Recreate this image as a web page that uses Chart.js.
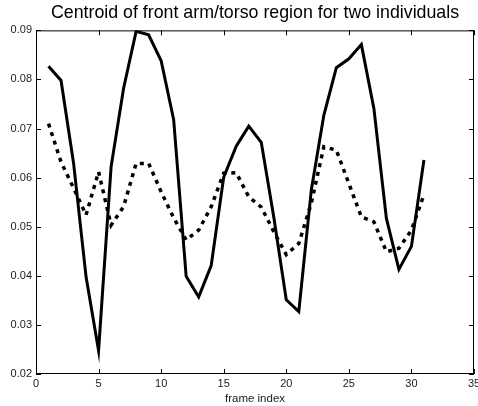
<!DOCTYPE html>
<html>
<head>
<meta charset="utf-8">
<script src="https://cdn.jsdelivr.net/npm/chart.js@4/dist/chart.umd.min.js"></script>
<style>
  html, body { margin: 0; padding: 0; background: #fff; }
  #wrap { width: 478px; height: 406px; }
</style>
</head>
<body>
<div id="wrap"><canvas id="chart" width="478" height="406"></canvas></div>
<script>
// frame index 1..31
const frames = [1,2,3,4,5,6,7,8,9,10,11,12,13,14,15,16,17,18,19,20,21,22,23,24,25,26,27,28,29,30,31];

// first individual (solid)
const personA = [0.0827,0.0798,0.0630,0.0398,0.0248,0.0622,0.0782,0.0898,0.0891,0.0838,
  0.0718,0.0399,0.0357,0.0421,0.0601,0.0664,0.0705,0.0672,0.0520,0.0351,
  0.0327,0.0575,0.0727,0.0824,0.0842,0.0871,0.0741,0.0517,0.0413,0.0460,0.0636];

// second individual (dotted)
const personB = [0.0710,0.0632,0.0579,0.0524,0.0612,0.0503,0.0541,0.0629,0.0629,0.0571,
  0.0518,0.0473,0.0493,0.0541,0.0609,0.0610,0.0561,0.0540,0.0490,0.0443,
  0.0466,0.0548,0.0663,0.0656,0.0588,0.0520,0.0510,0.0449,0.0456,0.0493,0.0565];

const xTicks = [0,5,10,15,20,25,30,35];
const yTicks = [0.02,0.03,0.04,0.05,0.06,0.07,0.08,0.09];

const toPoints = arr => arr.map((v, i) => ({ x: frames[i], y: v }));

// matlab style box + inward ticks on all four sides
const boxTicks = {
  id: 'boxTicks',
  afterDraw(chart) {
    const { ctx, chartArea: a, scales } = chart;
    const len = 5;
    ctx.save();
    ctx.strokeStyle = '#000';
    ctx.lineWidth = 1;
    ctx.strokeRect(a.left + 0.5, a.top + 0.5, a.right - a.left - 1, a.bottom - a.top - 1);
    ctx.beginPath();
    xTicks.forEach(t => {
      const px = Math.round(scales.x.getPixelForValue(t)) + 0.5;
      ctx.moveTo(px, a.bottom); ctx.lineTo(px, a.bottom - len);
      ctx.moveTo(px, a.top); ctx.lineTo(px, a.top + len);
    });
    yTicks.forEach(t => {
      const py = Math.round(scales.y.getPixelForValue(t)) + 0.5;
      ctx.moveTo(a.left, py); ctx.lineTo(a.left + len, py);
      ctx.moveTo(a.right, py); ctx.lineTo(a.right - len, py);
    });
    ctx.stroke();
    ctx.restore();
  }
};

const font = 'Arial, "Liberation Sans", Helvetica, sans-serif';

new Chart(document.getElementById('chart'), {
  type: 'line',
  data: {
    datasets: [
      {
        label: 'individual 1',
        data: toPoints(personA),
        borderColor: '#000',
        borderWidth: 3,
        pointRadius: 0,
        tension: 0,
        fill: false
      },
      {
        label: 'individual 2',
        data: toPoints(personB),
        borderColor: '#000',
        borderWidth: 3.5,
        borderDash: [4, 5],
        borderCapStyle: 'butt',
        pointRadius: 0,
        tension: 0,
        fill: false
      }
    ]
  },
  options: {
    responsive: false,
    animation: false,
    layout: { padding: { left: 0, right: 4, top: 0, bottom: 0 } },
    plugins: {
      legend: { display: false },
      tooltip: { enabled: false },
      title: {
        display: true,
        fullSize: false,
        text: 'Centroid of front arm/torso region for two individuals',
        color: '#000',
        font: { family: font, size: 17.8, weight: 'normal', lineHeight: 1.2 },
        padding: { top: 2, bottom: 7 }
      }
    },
    scales: {
      x: {
        type: 'linear',
        min: 0,
        max: 35,
        afterBuildTicks: s => { s.ticks = xTicks.map(v => ({ value: v })); },
        afterFit: s => { s.height = 32; s.paddingLeft = 0; s.paddingRight = 0; },
        grid: { display: false, drawTicks: false },
        border: { display: false },
        ticks: {
          color: '#222',
          font: { family: font, size: 11 },
          padding: 3,
          maxRotation: 0,
          autoSkip: false
        },
        title: {
          display: true,
          text: 'frame index',
          color: '#222',
          font: { family: font, size: 11.5 },
          padding: { top: 0, bottom: 0 }
        }
      },
      y: {
        type: 'linear',
        min: 0.02,
        max: 0.09,
        afterBuildTicks: s => { s.ticks = yTicks.map(v => ({ value: v })); },
        afterFit: s => { s.width = 36; s.paddingTop = 0; s.paddingBottom = 0; },
        grid: { display: false, drawTicks: false },
        border: { display: false },
        ticks: {
          color: '#222',
          font: { family: font, size: 11 },
          padding: 4,
          callback: v => v.toFixed(2)
        }
      }
    }
  },
  plugins: [boxTicks]
});
</script>
</body>
</html>
